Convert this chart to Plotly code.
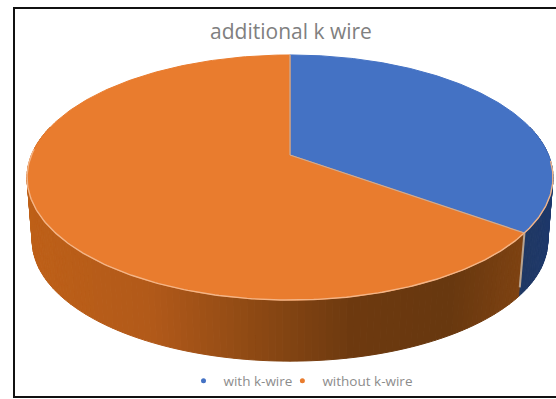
import numpy as np
import plotly.graph_objects as go

# Pie data
categories = ["with k-wire", "without k-wire"]
shares = [35, 65]
top_colors = ["#4472C4", "#E97C2E"]
side_blue = ["#1B3A78", "#203864"]
# Shading of the orange wall, sampled from left (x small) to right
wall_stops_x = [30, 150, 250, 350, 450, 520]
wall_stops_rgb = [(190, 96, 24), (178, 90, 26), (143, 74, 20), (110, 58, 16), (104, 56, 15), (125, 66, 18)]

title_text = "additional k wire"

# Perspective model of the disc, in page pixels
CX, CY, RX, RY, K = 290, 155, 258.5, 118.4, 0.1837
BOTTOM_SCALE, BOTTOM_CY, BOTTOM_K = 0.98, 219, 0.1837


def project_top(theta):
    s, c = np.sin(theta), np.cos(theta)
    d = 1 + K * c
    return CX + RX * s / d, CY - RY * c / d


def project_bottom(theta):
    s, c = np.sin(theta), np.cos(theta)
    d = 1 + BOTTOM_K * c
    return CX + RX * BOTTOM_SCALE * s / d, BOTTOM_CY - RY * BOTTOM_SCALE * c / d


fractions = np.cumsum([0] + shares) / sum(shares)
angles = 2 * np.pi * fractions
seam = angles[1]

fig = go.Figure()

# Side wall, drawn as thin quads so the shading can vary around the rim
edges = np.linspace(np.pi / 2 - 0.25, 3 * np.pi / 2 + 0.25, 161)
for a0, a1 in zip(edges[:-1], edges[1:]):
    mid = (a0 + a1) / 2
    xt0, yt0 = project_top(a0)
    xt1, yt1 = project_top(a1)
    xb0, yb0 = project_bottom(a0)
    xb1, yb1 = project_bottom(a1)
    if mid < seam:
        t = (mid - edges[0]) / (seam - edges[0])
        rgb = tuple(
            np.interp(t, [0, 1], [int(side_blue[0][i:i + 2], 16), int(side_blue[1][i:i + 2], 16)])
            for i in (1, 3, 5)
        )
    else:
        xm = (xt0 + xt1) / 2
        rgb = tuple(np.interp(xm, wall_stops_x, [p[i] for p in wall_stops_rgb]) for i in range(3))
    col = "rgb(%d,%d,%d)" % rgb
    fig.add_trace(go.Scatter(
        x=[xt0, xt1, xb1, xb0, xt0], y=[yt0, yt1, yb1, yb0, yt0],
        mode="lines", fill="toself", fillcolor=col,
        line=dict(color=col, width=1), hoverinfo="skip", showlegend=False,
    ))

# Pale seam where the two slices meet on the wall
sx0, sy0 = project_top(seam)
sx1, sy1 = project_bottom(seam)
fig.add_trace(go.Scatter(
    x=[sx0, sx1], y=[sy0, sy1 - 8], mode="lines",
    line=dict(color="#B9A48F", width=2), hoverinfo="skip", showlegend=False,
))

# Top faces
for name, color, a0, a1 in zip(categories, top_colors, angles[:-1], angles[1:]):
    th = np.linspace(a0, a1, 240)
    xs, ys = project_top(th)
    fig.add_trace(go.Scatter(
        x=np.r_[CX, xs, CX], y=np.r_[CY, ys, CY],
        mode="lines", fill="toself", fillcolor=color,
        line=dict(color=color, width=1), name=name, showlegend=False,
    ))

# Pale rim along the front edge and along the slice borders
th = np.linspace(np.pi / 2 + 0.05, 3 * np.pi / 2 + 0.05, 240)
rx, ry = project_top(th)
fig.add_trace(go.Scatter(
    x=rx, y=ry, mode="lines", line=dict(color="#F3B588", width=1.4),
    hoverinfo="skip", showlegend=False,
))
for a in angles[:-1]:
    ex, ey = project_top(a)
    fig.add_trace(go.Scatter(
        x=[CX, ex], y=[CY, ey], mode="lines", line=dict(color="#C9AE9C", width=1.2),
        hoverinfo="skip", showlegend=False,
    ))

# Legend entries
for name, color in zip(categories, top_colors):
    fig.add_trace(go.Scatter(
        x=[None], y=[None], mode="markers", name=name,
        marker=dict(color=color, size=5),
    ))

fig.update_layout(
    width=556, height=399,
    margin=dict(l=0, r=0, t=0, b=0),
    paper_bgcolor="white", plot_bgcolor="white",
    xaxis=dict(range=[0, 556], visible=False, fixedrange=True),
    yaxis=dict(range=[399, 0], visible=False, fixedrange=True),
    title=dict(
        text=title_text, x=291 / 556, xanchor="center", y=1 - 32 / 399, yanchor="middle",
        font=dict(family="Open Sans", size=21, color="#808080"),
    ),
    legend=dict(
        orientation="h", x=308 / 556, xanchor="center", y=1 - 381 / 399, yanchor="middle",
        font=dict(family="Open Sans", size=13.5, color="#8C8C8C"),
        bgcolor="rgba(0,0,0,0)", itemwidth=30, indentation=-15,
    ),
    shapes=[dict(
        type="rect", xref="x", yref="y", x0=14, x1=575, y0=8, y1=397,
        line=dict(color="#111111", width=2), layer="below",
    )],
)

fig.write_html("out.html", config=dict(displayModeBar=False))
